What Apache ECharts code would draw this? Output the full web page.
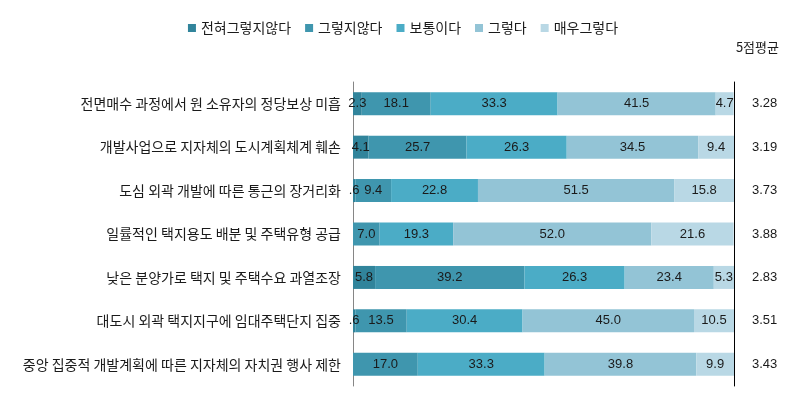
<!DOCTYPE html>
<html>
<head>
<meta charset="utf-8">
<script src="https://cdn.jsdelivr.net/npm/echarts@6/dist/echarts.min.js"></script>
<style>html,body{margin:0;padding:0;background:#fff;}#c{width:806px;height:410px;}</style>
</head>
<body>
<div id="c"></div>
<script>
var categories = [
  '전면매수 과정에서 원 소유자의 정당보상 미흡',
  '개발사업으로 지자체의 도시계획체계 훼손',
  '도심 외곽 개발에 따른 통근의 장거리화',
  '일률적인 택지용도 배분 및 주택유형 공급',
  '낮은 분양가로 택지 및 주택수요 과열조장',
  '대도시 외곽 택지지구에 임대주택단지 집중',
  '중앙 집중적 개발계획에 따른 지자체의 자치권 행사 제한'
];
var seriesNames = ['전혀그렇지않다', '그렇지않다', '보통이다', '그렇다', '매우그렇다'];
var s1 = [2.3, 4.1, 0.6, 0.0, 5.8, 0.6, 0.0];
var s2 = [18.1, 25.7, 9.4, 7.0, 39.2, 13.5, 17.0];
var s3 = [33.3, 26.3, 22.8, 19.3, 26.3, 30.4, 33.3];
var s4 = [41.5, 34.5, 51.5, 52.0, 23.4, 45.0, 39.8];
var s5 = [4.7, 9.4, 15.8, 21.6, 5.3, 10.5, 9.9];
var averages = ['3.28', '3.19', '3.73', '3.88', '2.83', '3.51', '3.43'];
var colors = ['#31849b', '#3f96ae', '#4bacc6', '#93c4d6', '#b9d8e5'];

var allData = [s1, s2, s3, s4, s5];
var chart = echarts.init(document.getElementById('c'));
var series = allData.map(function (d, i) {
  return {
    name: seriesNames[i],
    type: 'bar',
    stack: 'total',
    barWidth: 23,
    data: d,
    itemStyle: { color: colors[i] },
    label: {
      show: true,
      position: 'inside',
      color: '#1a1a1a',
      fontSize: 13,
      fontFamily: 'Liberation Sans Narrow, Liberation Sans, sans-serif',
      formatter: function (p) {
        if (!p.value) return '';
        var t = p.value.toFixed(1);
        if (p.value < 1) t = t.replace(/^0/, '');
        return t;
      }
    }
  };
});

chart.setOption({
  animation: false,
  title: {
    text: '5점평균',
    right: 22,
    top: 36,
    textStyle: { fontSize: 13, fontWeight: 'normal', color: '#1a1a1a', fontFamily: 'Noto Sans CJK KR' }
  },
  legend: {
    data: seriesNames,
    top: 16,
    left: 'center',
    icon: 'rect',
    itemWidth: 8,
    itemHeight: 8,
    itemGap: 14,
    textStyle: { fontSize: 14, color: '#1a1a1a', fontFamily: 'Noto Sans CJK KR' }
  },
  grid: { left: 353, right: 72, top: 82, height: 304 },
  xAxis: { type: 'value', min: 0, max: 100, show: false },
  yAxis: [
    {
      type: 'category',
      data: categories,
      inverse: true,
      axisLine: { show: true, lineStyle: { color: '#868686' } },
      axisTick: { show: false },
      axisLabel: { margin: 12, fontSize: 14, color: '#1a1a1a', fontFamily: 'Noto Sans CJK KR' }
    },
    {
      type: 'category',
      position: 'right',
      data: averages,
      inverse: true,
      axisLine: { show: true, lineStyle: { color: '#000' } },
      axisTick: { show: false },
      axisLabel: { margin: 18, fontSize: 13, color: '#1a1a1a', fontFamily: 'Liberation Sans Narrow, Liberation Sans, sans-serif' }
    }
  ],
  series: series
});
</script>
</body>
</html>
